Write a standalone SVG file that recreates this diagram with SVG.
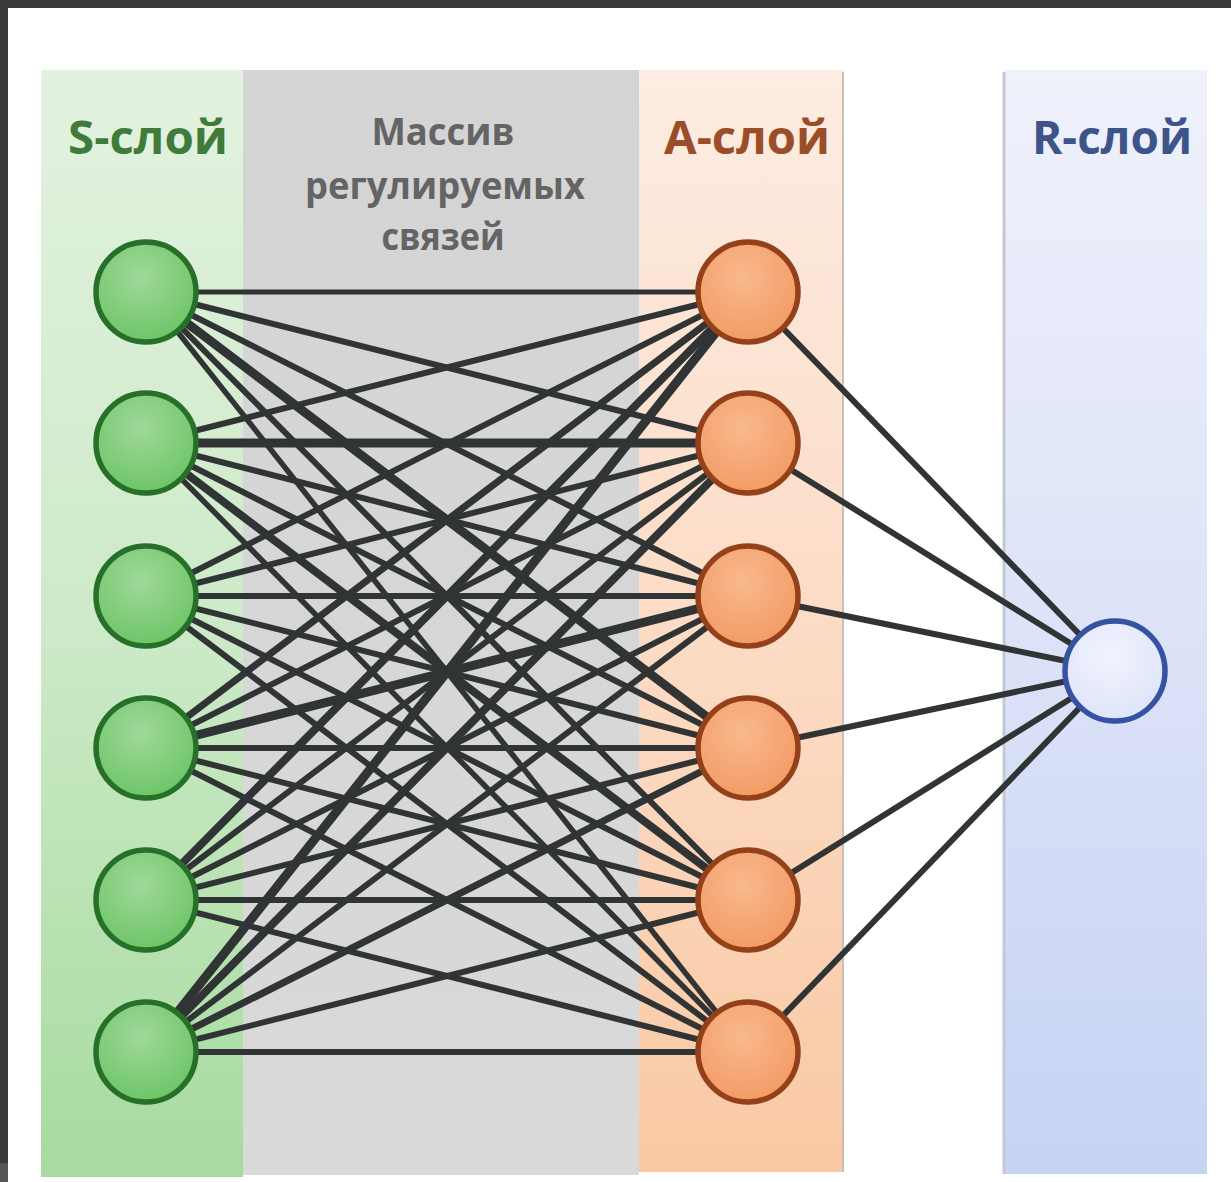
<svg xmlns="http://www.w3.org/2000/svg" width="1231" height="1182" viewBox="0 0 1231 1182">
  <defs>
    <linearGradient id="gGreen" x1="0" y1="0" x2="0" y2="1">
      <stop offset="0" stop-color="#e3f2e0"/>
      <stop offset="0.5" stop-color="#cdeac8"/>
      <stop offset="1" stop-color="#a7db9f"/>
    </linearGradient>
    <linearGradient id="gGray" x1="0" y1="0" x2="0" y2="1">
      <stop offset="0" stop-color="#d4d4d4"/>
      <stop offset="1" stop-color="#d9d9d9"/>
    </linearGradient>
    <linearGradient id="gOrange" x1="0" y1="0" x2="0" y2="1">
      <stop offset="0" stop-color="#fdece2"/>
      <stop offset="0.5" stop-color="#fcdcc6"/>
      <stop offset="1" stop-color="#f9c9a4"/>
    </linearGradient>
    <linearGradient id="gBlue" x1="0" y1="0" x2="0" y2="1">
      <stop offset="0" stop-color="#eff1fb"/>
      <stop offset="0.5" stop-color="#dde3f8"/>
      <stop offset="1" stop-color="#c6d3f4"/>
    </linearGradient>
    <radialGradient id="nGreen" cx="0.45" cy="0.35" r="0.7">
      <stop offset="0" stop-color="#a0d89a"/>
      <stop offset="1" stop-color="#6ac463"/>
    </radialGradient>
    <radialGradient id="nOrange" cx="0.45" cy="0.35" r="0.7">
      <stop offset="0" stop-color="#f8b88e"/>
      <stop offset="1" stop-color="#f39a62"/>
    </radialGradient>
    <radialGradient id="nBlue" cx="0.45" cy="0.35" r="0.7">
      <stop offset="0" stop-color="#f1f3fd"/>
      <stop offset="1" stop-color="#dde4fa"/>
    </radialGradient>
  </defs>
  <style>
    .title { font-family: "Open Sans", "Liberation Sans", sans-serif; font-weight: 700; font-size: 47px; text-anchor: middle; }
    .sub { font-family: "Open Sans", "Liberation Sans", sans-serif; font-weight: 700; font-size: 38px; fill: #646464; text-anchor: middle; }
    .s { fill: url(#nGreen); stroke: #26702a; stroke-width: 5.5; }
    .a { fill: url(#nOrange); stroke: #94401a; stroke-width: 5.5; }
    .r { fill: url(#nBlue); stroke: #3552a3; stroke-width: 5.5; }
    #links line { stroke: #313434; stroke-linecap: round; }
  </style>

  <!-- frame and page -->
  <rect x="0" y="0" width="1231" height="1182" fill="#ffffff"/>
  <rect x="0" y="0" width="1231" height="8" fill="#3a3a3a"/>
  <rect x="0" y="0" width="8" height="1163" fill="#3a3a3a"/>
  <rect x="0" y="1163" width="8" height="19" fill="#555555"/>

  <!-- layer bands -->
  <rect x="41" y="70" width="202" height="1107" fill="url(#gGreen)"/>
  <rect x="243" y="70" width="396" height="1105" fill="url(#gGray)"/>
  <rect x="639" y="70" width="205" height="1102" fill="url(#gOrange)"/>
  <line x1="843" y1="72" x2="843" y2="1172" stroke="#c9bfb8" stroke-width="2"/>
  <rect x="1004" y="70" width="203" height="1104" fill="url(#gBlue)"/>
  <line x1="1004" y1="72" x2="1004" y2="1174" stroke="#c4c8d4" stroke-width="3"/>

  <!-- headings -->
  <text class="title" x="148" y="154" fill="#3f7b3b" textLength="160" lengthAdjust="spacingAndGlyphs">S-слой</text>
  <text class="sub" x="443" y="145" textLength="143" lengthAdjust="spacingAndGlyphs">Массив</text>
  <text class="sub" x="445" y="199" textLength="280" lengthAdjust="spacingAndGlyphs">регулируемых</text>
  <text class="sub" x="443" y="250" textLength="123" lengthAdjust="spacingAndGlyphs">связей</text>
  <text class="title" x="747" y="154" fill="#9a4d29" textLength="166" lengthAdjust="spacingAndGlyphs">A-слой</text>
  <text class="title" x="1112" y="154" fill="#3d5489" textLength="160" lengthAdjust="spacingAndGlyphs">R-слой</text>

  <!-- weighted connections -->
  <g id="links">
    <!-- S1 -->
    <line x1="146" y1="292" x2="748" y2="292" stroke-width="5"/>
    <line x1="146" y1="292" x2="748" y2="443" stroke-width="6"/>
    <line x1="146" y1="292" x2="748" y2="596" stroke-width="6"/>
    <line x1="146" y1="292" x2="748" y2="748" stroke-width="9"/>
    <line x1="146" y1="292" x2="748" y2="900" stroke-width="6"/>
    <line x1="146" y1="292" x2="748" y2="1052" stroke-width="5.5"/>
    <!-- S2 -->
    <line x1="146" y1="443" x2="748" y2="292" stroke-width="6"/>
    <line x1="146" y1="443" x2="748" y2="443" stroke-width="9"/>
    <line x1="146" y1="443" x2="748" y2="596" stroke-width="6"/>
    <line x1="146" y1="443" x2="748" y2="748" stroke-width="6"/>
    <line x1="146" y1="443" x2="748" y2="900" stroke-width="8"/>
    <line x1="146" y1="443" x2="748" y2="1052" stroke-width="5.5"/>
    <!-- S3 -->
    <line x1="146" y1="596" x2="748" y2="292" stroke-width="6"/>
    <line x1="146" y1="596" x2="748" y2="443" stroke-width="6"/>
    <line x1="146" y1="596" x2="748" y2="596" stroke-width="6"/>
    <line x1="146" y1="596" x2="748" y2="748" stroke-width="6"/>
    <line x1="146" y1="596" x2="748" y2="900" stroke-width="6"/>
    <line x1="146" y1="596" x2="748" y2="1052" stroke-width="6"/>
    <!-- S4 -->
    <line x1="146" y1="748" x2="748" y2="292" stroke-width="7"/>
    <line x1="146" y1="748" x2="748" y2="443" stroke-width="6"/>
    <line x1="146" y1="748" x2="748" y2="596" stroke-width="9"/>
    <line x1="146" y1="748" x2="748" y2="748" stroke-width="6"/>
    <line x1="146" y1="748" x2="748" y2="900" stroke-width="6"/>
    <line x1="146" y1="748" x2="748" y2="1052" stroke-width="6"/>
    <!-- S5 -->
    <line x1="146" y1="900" x2="748" y2="292" stroke-width="8"/>
    <line x1="146" y1="900" x2="748" y2="443" stroke-width="6"/>
    <line x1="146" y1="900" x2="748" y2="596" stroke-width="6"/>
    <line x1="146" y1="900" x2="748" y2="748" stroke-width="6"/>
    <line x1="146" y1="900" x2="748" y2="900" stroke-width="6"/>
    <line x1="146" y1="900" x2="748" y2="1052" stroke-width="6"/>
    <!-- S6 -->
    <line x1="146" y1="1052" x2="748" y2="292" stroke-width="9"/>
    <line x1="146" y1="1052" x2="748" y2="443" stroke-width="8"/>
    <line x1="146" y1="1052" x2="748" y2="596" stroke-width="6"/>
    <line x1="146" y1="1052" x2="748" y2="748" stroke-width="7"/>
    <line x1="146" y1="1052" x2="748" y2="900" stroke-width="6"/>
    <line x1="146" y1="1052" x2="748" y2="1052" stroke-width="6"/>
    <!-- A to R -->
    <line x1="748" y1="292" x2="1115" y2="671" stroke-width="6"/>
    <line x1="748" y1="443" x2="1115" y2="671" stroke-width="6"/>
    <line x1="748" y1="596" x2="1115" y2="671" stroke-width="6"/>
    <line x1="748" y1="748" x2="1115" y2="671" stroke-width="6"/>
    <line x1="748" y1="900" x2="1115" y2="671" stroke-width="6"/>
    <line x1="748" y1="1052" x2="1115" y2="671" stroke-width="6"/>
  </g>

  <!-- S-layer nodes -->
  <g id="s1"><circle class="s" cx="146" cy="292" r="50"/></g>
  <g id="s2"><circle class="s" cx="146" cy="443" r="50"/></g>
  <g id="s3"><circle class="s" cx="146" cy="596" r="50"/></g>
  <g id="s4"><circle class="s" cx="146" cy="748" r="50"/></g>
  <g id="s5"><circle class="s" cx="146" cy="900" r="50"/></g>
  <g id="s6"><circle class="s" cx="146" cy="1052" r="50"/></g>

  <!-- A-layer nodes -->
  <g id="a1"><circle class="a" cx="748" cy="292" r="50"/></g>
  <g id="a2"><circle class="a" cx="748" cy="443" r="50"/></g>
  <g id="a3"><circle class="a" cx="748" cy="596" r="50"/></g>
  <g id="a4"><circle class="a" cx="748" cy="748" r="50"/></g>
  <g id="a5"><circle class="a" cx="748" cy="900" r="50"/></g>
  <g id="a6"><circle class="a" cx="748" cy="1052" r="50"/></g>

  <!-- R-layer node -->
  <g id="r1"><circle class="r" cx="1115" cy="671" r="50"/></g>
</svg>
